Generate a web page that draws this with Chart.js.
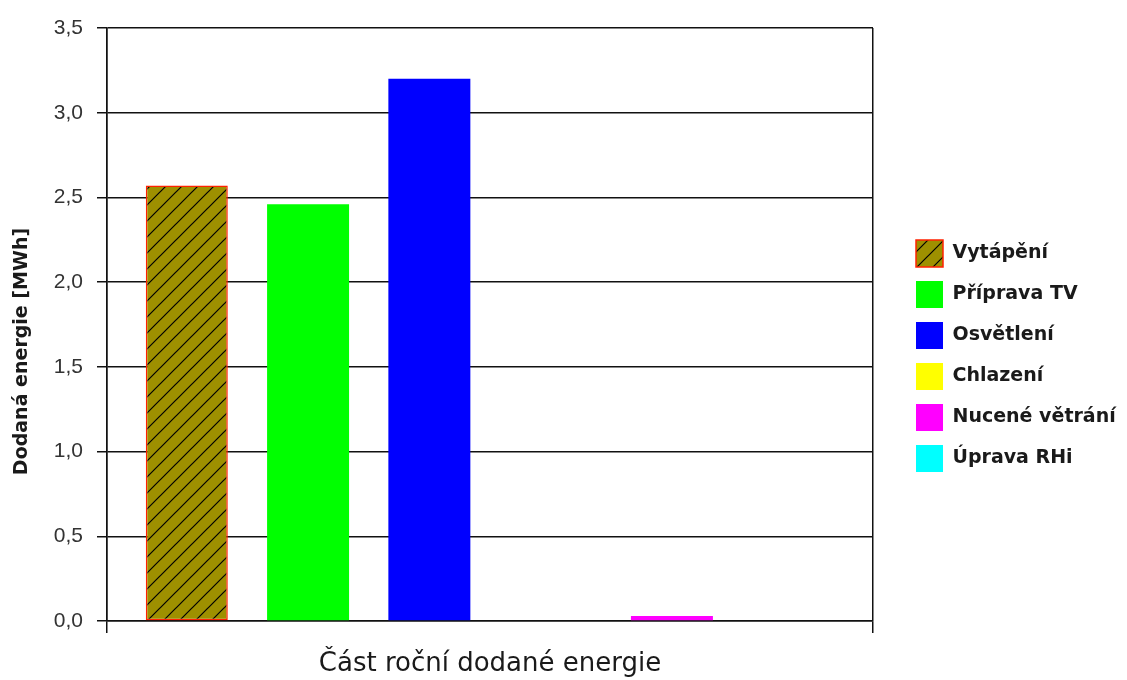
<!DOCTYPE html>
<html lang="cs">
<head>
<meta charset="utf-8">
<title>Dodaná energie</title>
<script src="https://cdn.jsdelivr.net/npm/chart.js@4.4.1/dist/chart.umd.min.js"></script>
<style>
  html, body { margin: 0; padding: 0; background: #fff; }
  canvas { display: block; }
</style>
</head>
<body>
<canvas id="chart" width="1127" height="680"></canvas>
<script>
// Annual delivered energy by purpose [MWh]
const categories = ['Vytápění', 'Příprava TV', 'Osvětlení', 'Chlazení', 'Nucené větrání', 'Úprava RHi'];
const values = [2.57, 2.46, 3.20, 0, 0.03, 0];
const seriesColors = ['#9e9000', '#00ff00', '#0000ff', '#ffff00', '#ff00ff', '#00ffff'];
const yTickLabels = ['0,0', '0,5', '1,0', '1,5', '2,0', '2,5', '3,0', '3,5'];
const yTitle = 'Dodaná energie [MWh]';
const xTitle = 'Část roční dodané energie';

// Diagonal hatch used for the heating bar
function makeHatch(base) {
  const tile = document.createElement('canvas');
  tile.width = tile.height = 16;
  const t = tile.getContext('2d');
  t.fillStyle = base;
  t.fillRect(0, 0, 16, 16);
  t.strokeStyle = '#000';
  t.lineWidth = 1.2;
  t.beginPath();
  t.moveTo(-2, 18); t.lineTo(18, -2);
  t.moveTo(-2, 2);  t.lineTo(2, -2);
  t.moveTo(14, 18); t.lineTo(18, 14);
  t.stroke();
  return t.createPattern(tile, 'repeat');
}
const hatch = makeHatch(seriesColors[0]);

// Legend geometry
const legendFont = { family: '"DejaVu Sans"', size: 19, weight: 'bold' };
const legendBox = 27, legendPad = 14;
const measure = document.createElement('canvas').getContext('2d');
measure.font = 'bold 19px "DejaVu Sans"';
const maxText = Math.max(...categories.map(t => measure.measureText(t).width));
const legendWidth = legendPad + legendBox + legendFont.size / 2 + maxText + 10;
const plotRight = 873, gapToLegend = 29;
const padRight = 1127 - plotRight - gapToLegend - legendWidth;

// Rotated value-axis title
const yTitlePlugin = {
  id: 'yTitle',
  afterDraw(chart) {
    const { ctx, chartArea } = chart;
    ctx.save();
    ctx.translate(22, (chartArea.top + chartArea.bottom) / 2 + 27);
    ctx.rotate(-Math.PI / 2);
    ctx.font = 'bold 19px "DejaVu Sans"';
    ctx.fillStyle = '#1a1a1a';
    ctx.textAlign = 'center';
    ctx.textBaseline = 'middle';
    ctx.fillText(yTitle, 0, 0);
    ctx.restore();
  }
};

new Chart(document.getElementById('chart'), {
  type: 'bar',
  data: {
    labels: [''],
    datasets: categories.map((name, i) => ({
      label: name,
      data: [values[i]],
      backgroundColor: i === 0 ? hatch : seriesColors[i],
      borderColor: i === 0 ? '#ff2200' : seriesColors[i],
      borderWidth: i === 0 ? 1.5 : 0,
      borderSkipped: false,
      categoryPercentage: 0.95,
      barPercentage: 0.676
    }))
  },
  options: {
    responsive: false,
    animation: false,
    layout: { padding: { left: 0, top: 28, right: padRight, bottom: -4 } },
    plugins: {
      tooltip: { enabled: false },
      legend: {
        position: 'right',
        align: 'center',
        maxWidth: 400,
        labels: {
          boxWidth: legendBox,
          boxHeight: legendBox,
          padding: legendPad,
          color: '#1a1a1a',
          font: legendFont
        }
      }
    },
    scales: {
      x: {
        offset: true,
        grid: { offset: true, color: '#111', lineWidth: 1.5, tickLength: 12 },
        border: { display: true, color: '#111', width: 1.5 },
        ticks: { display: false },
        title: {
          display: true,
          text: xTitle,
          color: '#1a1a1a',
          font: { family: '"DejaVu Sans"', size: 26 },
          padding: { top: 0, bottom: 4 }
        },
        afterFit(scale) { scale.height = 63; }
      },
      y: {
        min: 0,
        max: 3.5,
        ticks: {
          stepSize: 0.5,
          padding: 14,
          color: '#333',
          font: { family: '"Liberation Sans", Arial, sans-serif', size: 21 },
          callback: (v, i) => yTickLabels[i]
        },
        grid: { color: '#111', lineWidth: 1.5, tickLength: 10 },
        border: { display: true, color: '#111', width: 1.5 },
        afterFit(scale) { scale.width = 107; }
      },
      gap: {
        type: 'linear',
        position: 'right',
        grid: { display: false, drawTicks: false },
        border: { display: false },
        ticks: { display: false },
        afterFit(scale) { scale.width = gapToLegend; }
      }
    }
  },
  plugins: [yTitlePlugin]
});
</script>
</body>
</html>
